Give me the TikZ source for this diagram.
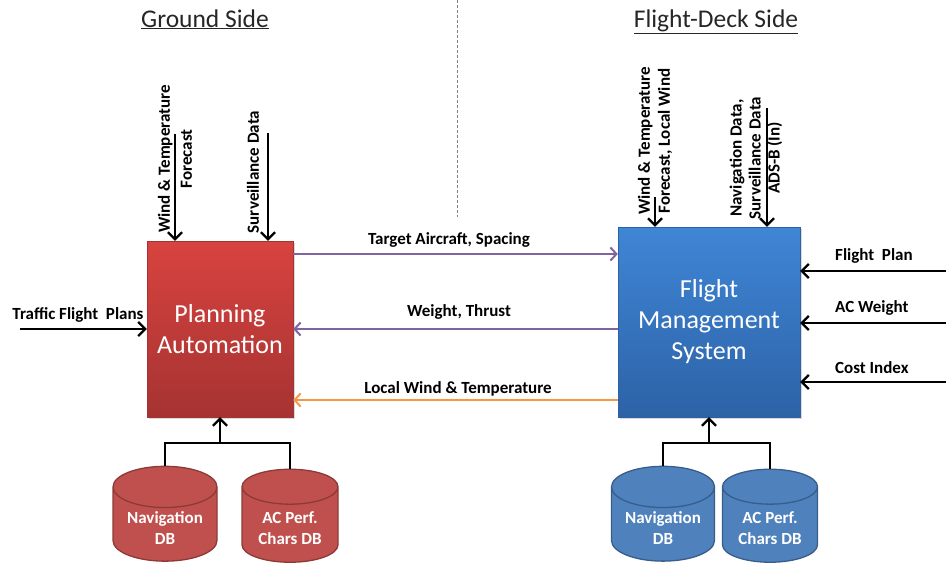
\documentclass[tikz,border=0pt]{standalone}
\usepackage{fontspec}
\setmainfont{Carlito}
\usepackage{tikz}
\usetikzlibrary{positioning, arrows.meta, shapes.geometric, shadows}

\definecolor{boxred}{HTML}{D8433F}
\definecolor{boxreddk}{HTML}{A53332}
\definecolor{boxblue}{HTML}{3F86D6}
\definecolor{boxbluedk}{HTML}{2D62A6}
\definecolor{dbred}{HTML}{C0504D}
\definecolor{dbredln}{HTML}{8C3A38}
\definecolor{dbblue}{HTML}{4F81BD}
\definecolor{dbblueln}{HTML}{385D8A}
\definecolor{linkpurple}{HTML}{8064A2}
\definecolor{linkorange}{HTML}{F79646}

\begin{document}
\begin{tikzpicture}[
        x=1pt, y=-1pt,
        title/.style={font=\fontsize{25.5}{30}\selectfont, text=black!85, inner sep=0pt, anchor=base},
        lbl/.style={font=\fontsize{17}{20}\selectfont\bfseries, inner sep=1pt},
        vlbl/.style={lbl, rotate=90, align=center, font=\fontsize{17}{20}\selectfont\bfseries},
        sysbox/.style={minimum width=146pt, minimum height=176pt, align=center, text=white,
            font=\fontsize{26}{31}\selectfont, line width=0.4pt,
            drop shadow={opacity=0.3, shadow xshift=2pt, shadow yshift=-2pt}},
        redbox/.style={sysbox, draw=boxreddk, top color=boxred, bottom color=boxreddk},
        bluebox/.style={sysbox, draw=boxbluedk, top color=boxblue, bottom color=boxbluedk},
        db/.style={cylinder, shape border rotate=90, aspect=0.5, line width=1.3pt,
            minimum width=100pt, minimum height=93pt, text=white, align=center,
            font=\fontsize{17}{21}\selectfont\bfseries},
        reddb/.style={db, draw=dbredln, fill=dbred},
        bluedb/.style={db, draw=dbblueln, fill=dbblue},
        arr/.style={-{Straight Barb[length=7pt, width=14pt]}, line width=2.2pt},
        link/.style={line width=2pt},
        parr/.style={link, linkpurple, -{Straight Barb[length=6pt, width=13pt]}},
        oarr/.style={link, linkorange, -{Straight Barb[length=6pt, width=13pt]}}
    ]
    \useasboundingbox (0,0) rectangle (946,565);

    \node[title] (gtitle) at (205,27) {\underline{Ground Side}};
    \node[title] (ftitle) at (716,27) {\underline{Flight-Deck Side}};
    \coordinate (septop) at (457,0);
    \coordinate (sepbot) at (457,217);
    \draw[gray, densely dashed, line width=0.8pt] (septop) -- (sepbot);

    \node[redbox] (pa) at (220,329) {Planning\\Automation};
    \node[bluebox, minimum width=182pt, minimum height=190pt] (fms) at (709,322) {Flight\\Management\\System};

    \node[vlbl, font=\fontsize{17}{22}\selectfont\bfseries] (wtlbl) at (175,159) {Wind \& Temperature\\Forecast};
    \node[vlbl] (svlbl) at (253,172) {Surveillance Data};
    \node[vlbl] (fwlbl) at (655,141) {Wind \& Temperature\\Forecast, Local Wind};
    \node[vlbl, font=\fontsize{17}{19}\selectfont\bfseries] (nvlbl) at (756,158) {Navigation Data,\\Surveillance Data\\ADS-B (In)};
    \coordinate (wtin) at (175,134);
    \coordinate (svin) at (268,133);
    \coordinate (fwin) at (655,197);
    \coordinate (nvin) at (767,108);
    \draw[arr] (wtin) -- (wtin |- pa.north);
    \draw[arr] (svin) -- (svin |- pa.north);
    \draw[arr] (fwin) -- (fwin |- fms.north);
    \draw[arr] (nvin) -- (nvin |- fms.north);

    \node[lbl] (tfplbl) at (78,315) {Traffic Flight\ \ Plans};
    \coordinate (tfpin) at (20,329);
    \draw[arr] (tfpin) -- (pa.west);

    \node[lbl, anchor=west] (fplbl) at (834,256) {Flight\ \ Plan};
    \node[lbl, anchor=west] (acwlbl) at (834,308) {AC Weight};
    \node[lbl, anchor=west] (cilbl) at (834,368) {Cost Index};
    \coordinate (fpin) at (946,271);
    \coordinate (acwin) at (946,323);
    \coordinate (ciin) at (946,382);
    \draw[arr] (fpin) -- (fpin -| fms.east);
    \draw[arr] (acwin) -- (acwin -| fms.east);
    \draw[arr] (ciin) -- (ciin -| fms.east);

    \node[lbl] (tslbl) at (449,240) {Target Aircraft, Spacing};
    \node[lbl] (wtrlbl) at (459,312) {Weight, Thrust};
    \node[lbl] (lwlbl) at (458,389) {Local Wind \& Temperature};
    \draw[parr] ([yshift=75pt]pa.east) coordinate (ts) -- (ts -| fms.west);
    \draw[parr] (fms.west |- pa.east) -- (pa.east);
    \draw[oarr] ([yshift=-71pt]pa.east) coordinate (lw) (lw -| fms.west) -- (lw);

    \node[reddb, minimum width=104pt] (navr) at (165,528) {Navigation\\DB};
    \node[reddb, minimum width=96pt] (acr) at (290,528) {AC Perf.\\Chars DB};
    \node[bluedb, minimum width=103pt] (navb) at (663,528) {Navigation\\DB};
    \node[bluedb, minimum width=95pt] (acb) at (770,528) {AC Perf.\\Chars DB};

    \coordinate (jr) at (220,443);
    \coordinate (jb) at (709,443);
    \draw[line width=2.2pt] (navr.north) |- (jr) -| (acr.north);
    \draw[arr] (jr) -- (pa.south);
    \draw[line width=2.2pt] (navb.north) |- (jb) -| (acb.north);
    \draw[arr] (jb) -- (fms.south);
\end{tikzpicture}
\end{document}
